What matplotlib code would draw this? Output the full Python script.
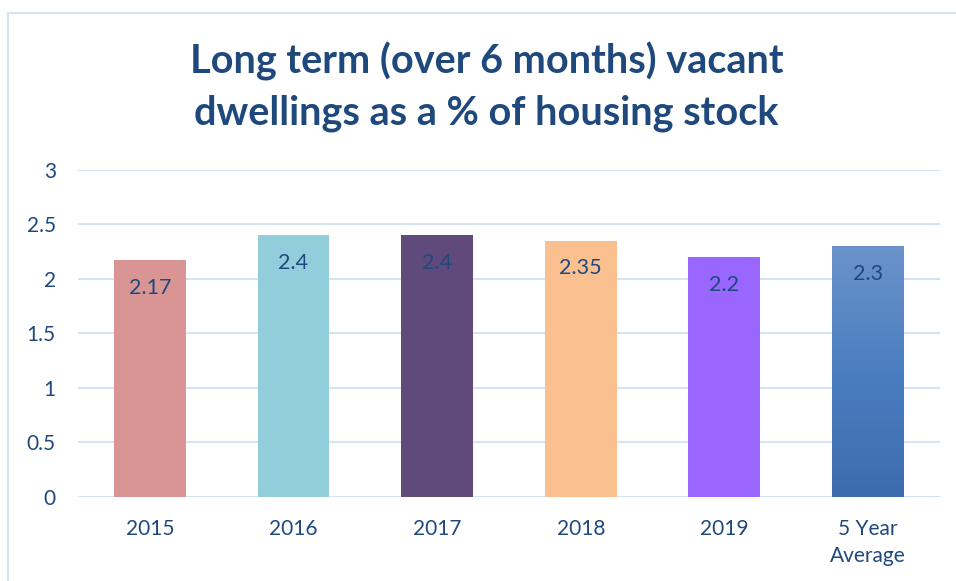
import numpy as np
import matplotlib
matplotlib.use("Agg")
import matplotlib.pyplot as plt
from matplotlib.colors import LinearSegmentedColormap
from matplotlib.lines import Line2D

categories = ["2015", "2016", "2017", "2018", "2019", "5 Year\nAverage"]
values = [2.17, 2.4, 2.4, 2.35, 2.2, 2.3]
colors = ["#D99594", "#92CDDC", "#604A7B", "#FAC090", "#9966FF", "#4F81BD"]

TEXT = "#1F497D"
GRID = "#D6E3F3"

plt.rcParams["font.family"] = ["Lato", "DejaVu Sans"]

fig = plt.figure(figsize=(9.56, 5.81), dpi=100)
ax = fig.add_axes([0.0816, 0.1446, 0.9014, 0.5628])

x = np.arange(len(categories))
bars = ax.bar(x, values, width=0.5, color=colors, zorder=2)

# last bar gets a vertical gradient like the original
last = bars[-1]
last.set_facecolor("none")
cmap = LinearSegmentedColormap.from_list("avg", ["#3D6CAE", "#4A7EC0", "#6B93C9"])
grad = np.linspace(0, 1, 256).reshape(-1, 1)
bx, bw, bh = last.get_x(), last.get_width(), last.get_height()
ax.imshow(grad, cmap=cmap, origin="lower", aspect="auto",
          extent=(bx, bx + bw, 0, bh), zorder=2)

for xi, v in zip(x, values):
    ax.text(xi, v - 0.16, f"{v:g}", ha="center", va="top",
            fontsize=15.5, color=TEXT, zorder=3)

ax.set_xlim(-0.5, len(categories) - 0.5)
ax.set_ylim(0, 3)
ax.set_yticks(np.arange(0, 3.01, 0.5))
ax.set_yticklabels(["0", "0.5", "1", "1.5", "2", "2.5", "3"])
ax.set_xticks(x)
ax.set_xticklabels(categories, linespacing=1.45)
ax.tick_params(axis="both", length=0, labelsize=15, colors=TEXT)
ax.tick_params(axis="y", pad=16)
ax.tick_params(axis="x", pad=16)
ax.yaxis.grid(True, color=GRID, linewidth=1.5, zorder=0)
ax.set_axisbelow(True)
for s in ax.spines.values():
    s.set_visible(False)

fig.text(0.509, 0.851, "Long term (over 6 months) vacant\ndwellings as a % of housing stock",
         ha="center", va="center", fontsize=28.5, fontweight="bold",
         color=TEXT, linespacing=1.45)

# chart frame, only top and left edges are visible in the crop
fig.add_artist(Line2D([8 / 956, 1], [1 - 13 / 581] * 2, transform=fig.transFigure,
                      color=GRID, linewidth=1.5))
fig.add_artist(Line2D([8 / 956] * 2, [0, 1 - 13 / 581], transform=fig.transFigure,
                      color=GRID, linewidth=1.5))

fig.savefig("out.png", dpi=100)
